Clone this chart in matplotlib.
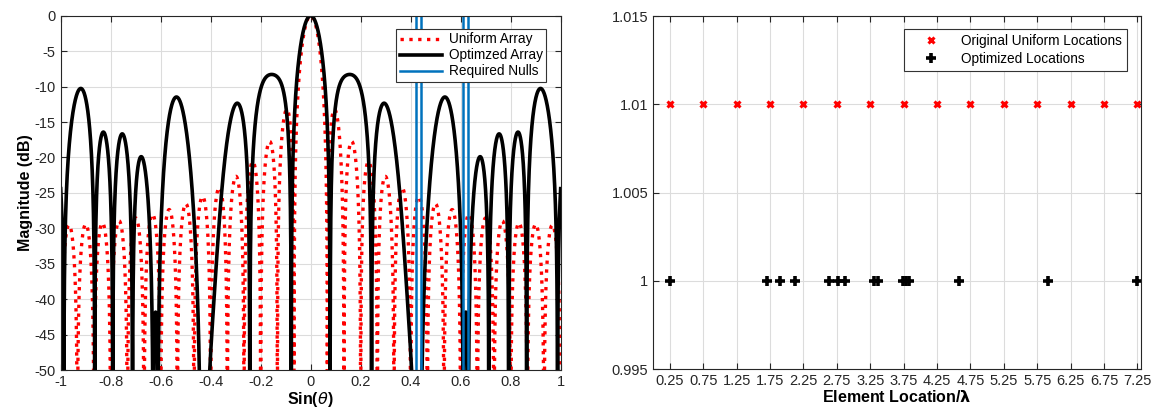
import matplotlib
matplotlib.use("Agg")
import matplotlib.pyplot as plt
import numpy as np
from matplotlib.ticker import FormatStrFormatter

plt.rcParams["font.family"] = ["Liberation Sans", "DejaVu Sans"]
plt.rcParams["axes.unicode_minus"] = False

# element locations (in wavelengths), one half of a symmetric array
uniform_pos = [0.25, 0.75, 1.25, 1.75, 2.25, 2.75, 3.25, 3.75,
               4.25, 4.75, 5.25, 5.75, 6.25, 6.75, 7.25]
optim_pos = [0.25, 1.70, 1.905, 2.13, 2.63, 2.765, 2.865, 3.31, 3.36,
             3.74, 3.79, 3.83, 4.58, 5.91, 7.25]
null_lines = [0.42, 0.44, 0.61, 0.63]
xticks_right = [0.25, 0.75, 1.25, 1.75, 2.25, 2.75, 3.25, 3.75,
                4.25, 4.75, 5.25, 5.75, 6.25, 6.75, 7.25]

u = np.linspace(-1, 1, 4001)


def pattern_db(pos):
    pos = np.asarray(pos)
    af = np.cos(2 * np.pi * np.outer(u, pos)).sum(axis=1) / len(pos)
    return 20 * np.log10(np.abs(af) + 1e-12)


fig = plt.figure(figsize=(11.56, 4.13), dpi=100)
ax1 = fig.add_axes([0.0525, 0.104, 0.4325, 0.858])
ax2 = fig.add_axes([0.565, 0.1065, 0.4218, 0.8545])

fs = 10.5
lfs = 9.8
lab_fs = 11.5

ax1.plot(u, pattern_db(uniform_pos), ":", color="#ff0000", lw=2.4, label="Uniform Array")
ax1.plot(u, pattern_db(optim_pos), "-", color="black", lw=2.6, label="Optimzed Array")
for i, xv in enumerate(null_lines):
    ax1.axvline(xv, color="#0072bd", lw=1.8, label="Required Nulls" if i == 0 else None)
ax1.set_xlim(-1, 1)
ax1.set_ylim(-50, 0)
ax1.set_xticks(np.arange(-1, 1.01, 0.2))
ax1.set_yticks(np.arange(-50, 1, 5))
ax1.set_xticklabels(["-1", "-0.8", "-0.6", "-0.4", "-0.2", "0", "0.2", "0.4", "0.6", "0.8", "1"])
ax1.yaxis.set_major_formatter(FormatStrFormatter("%g"))
ax1.set_xlabel(r"Sin($\theta$)", fontweight="bold", fontsize=lab_fs, labelpad=1)
ax1.set_ylabel("Magnitude (dB)", fontweight="bold", fontsize=lab_fs, labelpad=1)
leg1 = ax1.legend(loc="upper right", fontsize=lfs, frameon=True, fancybox=False,
                  edgecolor="#333333", framealpha=1, borderpad=0.25, borderaxespad=0,
                  handlelength=3.1, handletextpad=0.5, labelspacing=0.15,
                  bbox_to_anchor=(0.9706, 0.9625))
leg1.get_frame().set_linewidth(0.8)

y_uni = [1.01] * len(uniform_pos)
y_opt = [1.0] * len(optim_pos)
ax2.plot(uniform_pos, y_uni, "x", color="#ff0000", ms=5, mew=2.2, ls="none",
         label="Original Uniform Locations")
ax2.plot(optim_pos, y_opt, "+", color="black", ms=7, mew=2.6, ls="none",
         label="Optimized Locations")
ax2.set_xlim(0, 7.3)
ax2.set_ylim(0.995, 1.015)
ax2.set_xticks(xticks_right)
ax2.set_yticks([0.995, 1.0, 1.005, 1.01, 1.015])
ax2.xaxis.set_major_formatter(FormatStrFormatter("%g"))
ax2.yaxis.set_major_formatter(FormatStrFormatter("%g"))
ax2.set_xlabel(r"Element Location/$\mathbf{\lambda}$", fontweight="bold", fontsize=lab_fs, labelpad=1)
leg2 = ax2.legend(loc="upper right", fontsize=lfs, frameon=True, fancybox=False,
                  edgecolor="#333333", framealpha=1, borderpad=0.35, borderaxespad=0,
                  handlelength=3.2, handletextpad=0.6, labelspacing=0.3,
                  bbox_to_anchor=(0.971, 0.963))
leg2.get_frame().set_linewidth(0.8)

for ax in (ax1, ax2):
    ax.grid(True, color="#dcdcdc", lw=0.8)
    ax.set_axisbelow(True)
    ax.tick_params(direction="in", top=True, right=True, labelsize=fs,
                   length=4, width=0.8, colors="#262626")
    for sp in ax.spines.values():
        sp.set_color("#262626")
        sp.set_linewidth(0.8)

fig.savefig("out.png", dpi=100)
